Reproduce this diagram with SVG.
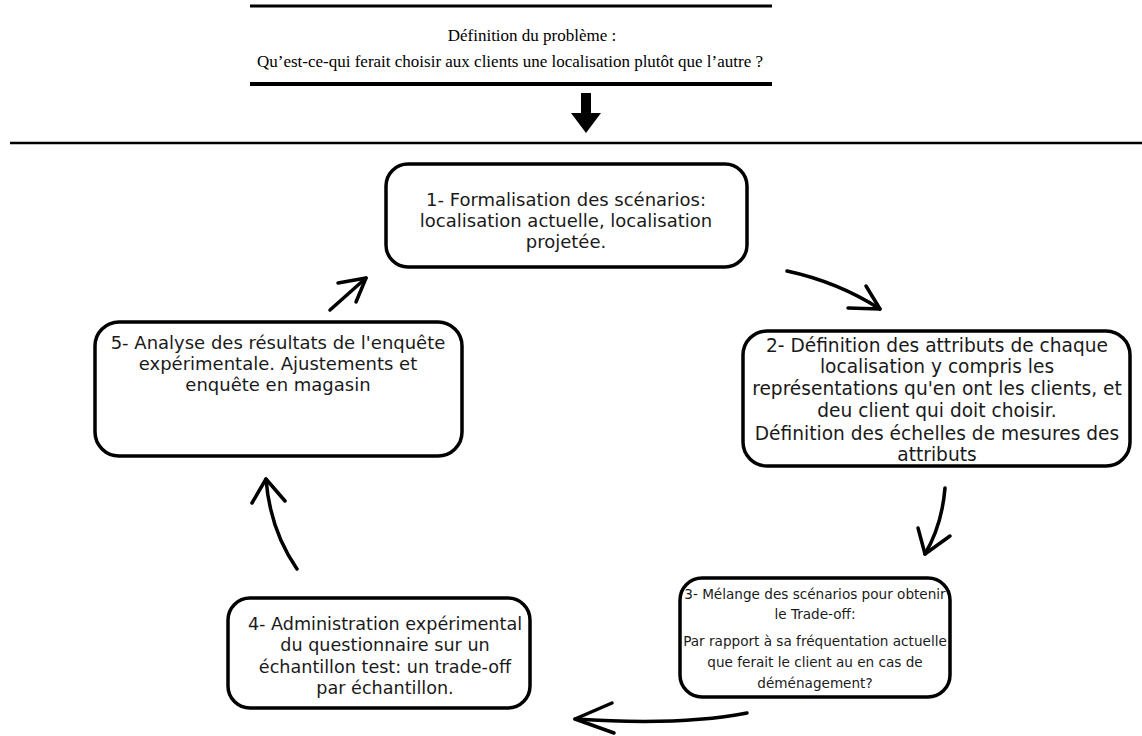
<svg xmlns="http://www.w3.org/2000/svg" width="1142" height="736" viewBox="0 0 1142 736">
<style>
.box{fill:#fff;stroke:#000;stroke-width:3.5}
.t{font-family:"DejaVu Sans",sans-serif;font-size:18px;fill:#1a1a1a;text-anchor:middle}
.t2{font-family:"DejaVu Sans",sans-serif;font-size:18.6px;fill:#1a1a1a;text-anchor:middle}
.t3{font-family:"DejaVu Sans",sans-serif;font-size:13.6px;fill:#1a1a1a;text-anchor:middle}
.t4{font-family:"DejaVu Sans",sans-serif;font-size:17.6px;fill:#1a1a1a;text-anchor:middle}
.serif{font-family:"Liberation Serif","Times New Roman",serif;font-size:17px;fill:#000;text-anchor:middle}
.arr{fill:none;stroke:#000;stroke-width:3.5;stroke-linecap:round;stroke-linejoin:round}
</style>
<rect width="1142" height="736" fill="#fff"/>
<g id="probleme">
<line x1="250" y1="6" x2="772" y2="6" stroke="#000" stroke-width="3"/>
<line x1="250" y1="84" x2="772" y2="84" stroke="#000" stroke-width="4"/>
<text class="serif" x="532" y="41">Définition du problème :</text>
<text class="serif" x="510" y="67">Qu’est-ce-qui ferait choisir aux clients une localisation plutôt que l’autre ?</text>
</g>
<line id="separateur" x1="10" y1="143" x2="1142" y2="143" stroke="#000" stroke-width="2.5"/>
<g id="n1">
<rect class="box" x="386" y="164" width="361" height="103" rx="22"/>
<text class="t" x="566" y="206">1- Formalisation des scénarios:</text>
<text class="t" x="566" y="227">localisation actuelle, localisation</text>
<text class="t" x="566" y="248">projetée.</text>
</g>
<g id="n2">
<rect class="box" x="743" y="331" width="387" height="135" rx="24"/>
<text class="t2" x="937" y="352">2- Définition des attributs de chaque</text>
<text class="t2" x="937" y="373">localisation y compris les</text>
<text class="t2" x="937" y="395">représentations qu'en ont les clients, et</text>
<text class="t2" x="937" y="417">deu client qui doit choisir.</text>
<text class="t2" x="937" y="440">Définition des échelles de mesures des</text>
<text class="t2" x="937" y="461">attributs</text>
</g>
<g id="n3">
<rect class="box" x="680" y="578" width="270" height="119" rx="22"/>
<text class="t3" x="815" y="599">3- Mélange des scénarios pour obtenir</text>
<text class="t3" x="815" y="619">le Trade-off:</text>
<text class="t3" x="815" y="646">Par rapport à sa fréquentation actuelle</text>
<text class="t3" x="815" y="667">que ferait le client au en cas de</text>
<text class="t3" x="815" y="688">déménagement?</text>
</g>
<g id="n4">
<rect class="box" x="228" y="598" width="302" height="110" rx="22"/>
<text class="t4" x="385" y="630">4- Administration expérimental</text>
<text class="t4" x="385" y="651">du questionnaire sur un</text>
<text class="t4" x="385" y="673">échantillon test: un trade-off</text>
<text class="t4" x="385" y="694">par échantillon.</text>
</g>
<g id="n5">
<rect class="box" x="95" y="322" width="367" height="134" rx="24"/>
<text class="t" x="278" y="349">5- Analyse des résultats de l'enquête</text>
<text class="t" x="278" y="370">expérimentale. Ajustements et</text>
<text class="t" x="278" y="391">enquête en magasin</text>
</g>
<g id="connecteurs">
<polygon points="581,93 591,93 591,113 601,113 586,133 571,113 581,113" fill="#000"/>
<path class="arr" d="M787,271 Q838,282 880,309"/>
<path class="arr" d="M866,286 L880,309 L848,308"/>
<path class="arr" d="M945,488 Q942,525 925,554"/>
<path class="arr" d="M918,528 L925,554 L950,536"/>
<path class="arr" d="M747,713 Q680,726 575,719"/>
<path class="arr" d="M612,703 L575,719 L614,733"/>
<path class="arr" d="M297,569 Q270,530 266,479"/>
<path class="arr" d="M252,503 L266,479 L285,501"/>
<path class="arr" d="M330,310 L366,278"/>
<path class="arr" d="M338,283 L366,278 L356,302"/>
</g>
</svg>
